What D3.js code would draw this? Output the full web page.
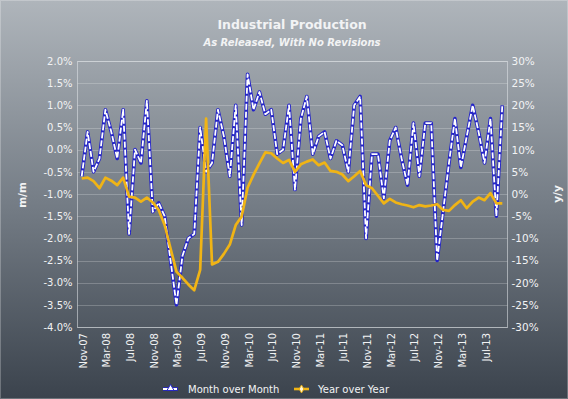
<!DOCTYPE html>
<html>
<head>
<meta charset="utf-8">
<script src="https://cdn.jsdelivr.net/npm/d3@7"></script>
<style>
  html, body { margin: 0; padding: 0; background: #3d4550; }
  #container { width: 568px; height: 399px; }
</style>
</head>
<body>
<div id="container"></div>
<script>
"use strict";

// Monthly categories, Nov-07 .. Oct-13.
const months = d3.timeMonths(new Date(2007, 10, 1), new Date(2013, 10, 1)).map(d3.timeFormat("%b-%y"));

const tickLabels = [
  "Nov-07", "Mar-08", "Jul-08", "Nov-08", "Mar-09", "Jul-09", "Nov-09", "Mar-10", "Jul-10",
  "Nov-10", "Mar-11", "Jul-11", "Nov-11", "Mar-12", "Jul-12", "Nov-12", "Mar-13", "Jul-13"
];

// Month over month change, % (left axis).
const momValues = [
  -0.6, 0.4, -0.5, -0.2, 0.9, 0.4, -0.2, 0.9, -1.9, 0.0, -0.3, 1.1,
  -1.4, -1.2, -1.5, -2.5, -3.5, -2.4, -2.0, -1.9, 0.5, -0.5, -0.3, 0.9,
  0.3, -0.6, 1.0, -1.7, 1.7, 0.9, 1.3, 0.8, 0.9, -0.1, 0.0, 1.0,
  -0.9, 0.7, 1.2, -0.1, 0.3, 0.4, -0.2, 0.2, 0.1, -0.5, 1.0, 1.2,
  -2.0, -0.1, -0.1, -1.1, 0.2, 0.5, -0.2, -0.8, 0.6, -0.6, 0.6, 0.6,
  -2.5, -1.4, -0.3, 0.7, -0.4, 0.3, 1.0, 0.4, -0.3, 0.7, -1.5, 1.0
];

// Year over year change, % (right axis).
const yoyValues = [
  3.5, 3.7, 2.9, 1.3, 3.7, 3.0, 2.0, 3.7, -0.6, -0.8, -1.7, -0.8,
  -1.9, -3.6, -7.0, -12.3, -17.5, -18.9, -20.4, -21.7, -17.1, 17.0, -15.9, -15.3,
  -13.5, -11.4, -7.0, -5.1, 1.4, 4.3, 6.9, 9.4, 9.2, 8.0, 7.0, 7.7,
  5.0, 6.7, 7.3, 7.8, 6.5, 7.1, 5.2, 5.0, 4.4, 2.9, 4.0, 5.2,
  2.0, 1.3, -0.4, -2.1, -1.1, -1.9, -2.3, -2.6, -3.0, -2.5, -2.8, -2.6,
  -2.3, -3.6, -3.8, -2.5, -1.4, -3.2, -1.7, -0.8, -1.4, 0.2, -2.1, -2.1
];

const leftTicks = [2.0, 1.5, 1.0, 0.5, 0.0, -0.5, -1.0, -1.5, -2.0, -2.5, -3.0, -3.5, -4.0];
const rightTicks = [30, 25, 20, 15, 10, 5, 0, -5, -10, -15, -20, -25, -30];

const width = 568;
const height = 399;
const plotLeft = 77.5;
const plotRight = 507.5;
const plotTop = 61;
const plotBottom = 327;
const fontFamily = "'DejaVu Sans', Verdana, sans-serif";
const textColor = "#f2f3f4";

const x = d3.scalePoint().domain(months).range([81.7, 502.3]);
const yLeft = d3.scaleLinear().domain([-4, 2]).range([plotBottom, plotTop]);
const yRight = d3.scaleLinear().domain([-30, 30]).range([plotBottom, plotTop]);

const svg = d3.create("svg").attr("width", width).attr("height", height)
  .style("font-family", fontFamily);

// Background gradient.
const grad = svg.append("defs").append("linearGradient")
  .attr("id", "bg").attr("x1", 0).attr("y1", 0).attr("x2", 0).attr("y2", 1);
grad.append("stop").attr("offset", "0%").attr("stop-color", "#afb5bb");
grad.append("stop").attr("offset", "50%").attr("stop-color", "#767e87");
grad.append("stop").attr("offset", "100%").attr("stop-color", "#3b434d");
svg.append("rect").attr("width", width).attr("height", height).attr("fill", "url(#bg)");
svg.append("rect").attr("x", 0.5).attr("y", 0.5).attr("width", width - 1).attr("height", height - 1)
  .attr("fill", "none").attr("stroke", "rgba(255,255,255,0.25)");

// Gridlines.
svg.append("g")
  .selectAll("line")
  .data(leftTicks)
  .join("line")
  .attr("x1", plotLeft).attr("x2", plotRight)
  .attr("y1", (d) => Math.round(yLeft(d)) + 0.5)
  .attr("y2", (d) => Math.round(yLeft(d)) + 0.5)
  .attr("stroke", "rgba(255,255,255,0.22)");

// Plot frame.
svg.append("rect")
  .attr("x", plotLeft).attr("y", plotTop + 0.5)
  .attr("width", plotRight - plotLeft).attr("height", plotBottom - plotTop)
  .attr("fill", "none").attr("stroke", "rgba(225,229,233,0.55)");

// Left axis.
svg.append("g")
  .attr("transform", `translate(${plotLeft}, 0)`)
  .call(d3.axisLeft(yLeft).tickValues(leftTicks).tickFormat((d) => d.toFixed(1) + "%").tickSize(0).tickPadding(5))
  .call((g) => g.select(".domain").remove())
  .selectAll("text")
  .attr("fill", textColor)
  .style("font-size", "10px")
  .style("font-family", fontFamily);

// Right axis.
svg.append("g")
  .attr("transform", `translate(${plotRight}, 0)`)
  .call(d3.axisRight(yRight).tickValues(rightTicks).tickFormat((d) => d + "%").tickSize(0).tickPadding(4))
  .call((g) => g.select(".domain").remove())
  .selectAll("text")
  .attr("fill", textColor)
  .style("font-size", "10.5px")
  .style("font-family", fontFamily);

// Bottom axis, rotated labels.
svg.append("g")
  .attr("transform", `translate(1, ${plotBottom})`)
  .call(d3.axisBottom(x).tickValues(tickLabels).tickSize(0))
  .call((g) => g.select(".domain").remove())
  .selectAll("text")
  .attr("transform", "rotate(-90)")
  .attr("x", -6)
  .attr("y", 0)
  .attr("dy", "0.35em")
  .style("text-anchor", "end")
  .attr("fill", textColor)
  .style("font-size", "10px")
  .style("font-family", fontFamily);

// Month over month line: blue with white dashes on top.
const momLine = d3.line().x((d, i) => x(months[i])).y((d) => yLeft(d));
svg.append("path")
  .attr("d", momLine(momValues))
  .attr("fill", "none")
  .attr("stroke", "#2424c8")
  .attr("stroke-width", 3.6)
  .attr("stroke-linejoin", "round");
svg.append("path")
  .attr("d", momLine(momValues))
  .attr("fill", "none")
  .attr("stroke", "#ffffff")
  .attr("stroke-width", 1.8)
  .attr("stroke-dasharray", "6,2")
  .attr("stroke-linejoin", "round");

// Year over year line, drawn on top.
const yoyLine = d3.line().x((d, i) => x(months[i])).y((d) => yRight(d));
svg.append("path")
  .attr("d", yoyLine(yoyValues))
  .attr("fill", "none")
  .attr("stroke", "#f0b415")
  .attr("stroke-width", 2.7)
  .attr("stroke-linejoin", "round");

// Titles.
svg.append("text")
  .attr("x", 292).attr("y", 29)
  .attr("text-anchor", "middle")
  .attr("fill", textColor)
  .style("font-size", "12.5px").style("font-weight", "bold")
  .text("Industrial Production");
svg.append("text")
  .attr("x", 292).attr("y", 46)
  .attr("text-anchor", "middle")
  .attr("fill", textColor)
  .style("font-size", "10px").style("font-weight", "bold").style("font-style", "italic")
  .text("As Released, With No Revisions");

// Axis titles.
svg.append("text")
  .attr("transform", "translate(26, 195) rotate(-90)")
  .attr("text-anchor", "middle")
  .attr("fill", textColor)
  .style("font-size", "10.5px").style("font-weight", "bold")
  .text("m/m");
svg.append("text")
  .attr("transform", "translate(561, 194) rotate(-90)")
  .attr("text-anchor", "middle")
  .attr("fill", textColor)
  .style("font-size", "10.5px").style("font-weight", "bold")
  .text("y/y");

// Legend.
const legend = svg.append("g").attr("transform", "translate(0, 389)");
legend.append("line").attr("x1", 163).attr("x2", 178).attr("y1", 0).attr("y2", 0)
  .attr("stroke", "#2424c8").attr("stroke-width", 3.6);
legend.append("line").attr("x1", 163).attr("x2", 178).attr("y1", 0).attr("y2", 0)
  .attr("stroke", "#ffffff").attr("stroke-width", 1.8).attr("stroke-dasharray", "6,2");
legend.append("path")
  .attr("transform", "translate(170.5, -0.5)")
  .attr("d", d3.symbol(d3.symbolTriangle, 22)())
  .attr("fill", "#ffffff").attr("stroke", "#2424c8").attr("stroke-width", 1);
legend.append("text").attr("x", 188).attr("y", 0).attr("dy", "0.35em")
  .attr("fill", textColor).style("font-size", "10px")
  .text("Month over Month");
legend.append("line").attr("x1", 294).attr("x2", 309).attr("y1", 0).attr("y2", 0)
  .attr("stroke", "#f0b415").attr("stroke-width", 2.6);
legend.append("path")
  .attr("transform", "translate(301.5, 0)")
  .attr("d", d3.symbol(d3.symbolDiamond, 18)())
  .attr("fill", "#fff6d8").attr("stroke", "#f0b415").attr("stroke-width", 1);
legend.append("text").attr("x", 318).attr("y", 0).attr("dy", "0.35em")
  .attr("fill", textColor).style("font-size", "10px")
  .text("Year over Year");

d3.select("#container").append(() => svg.node());
</script>
</body>
</html>
